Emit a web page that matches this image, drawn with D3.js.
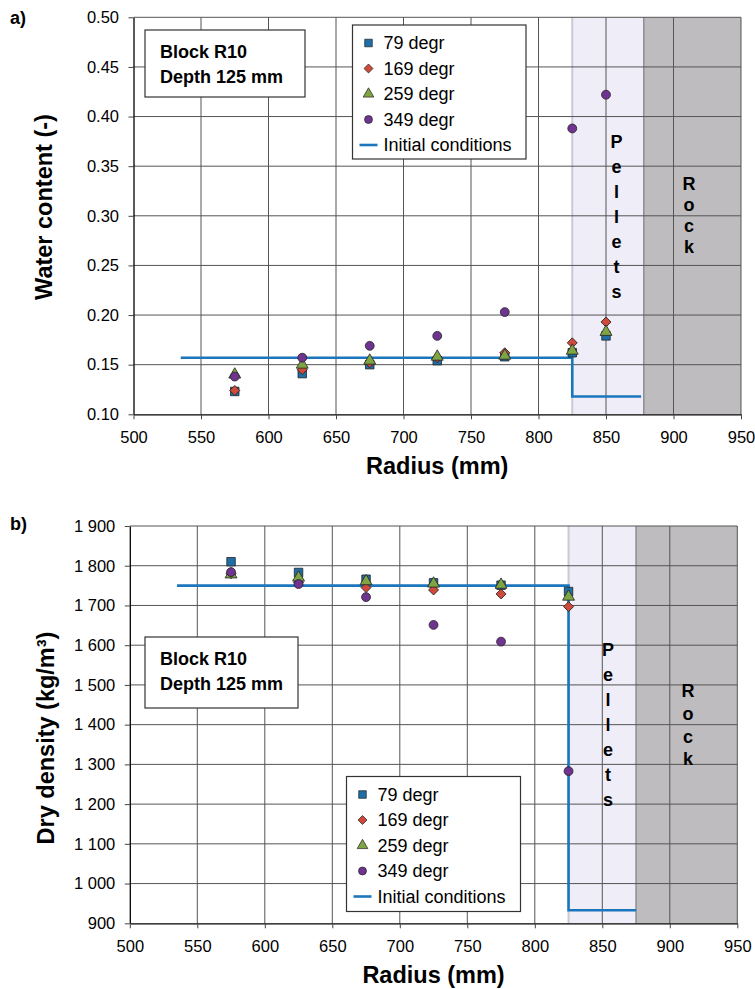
<!DOCTYPE html>
<html>
<head>
<meta charset="utf-8">
<script src="https://cdn.jsdelivr.net/npm/d3@7"></script>
<style>
  body { margin: 0; background: #fff; }
  svg text { font-family: "Liberation Sans", Arial, sans-serif; fill: #000; }
</style>
</head>
<body>
<div id="chart"></div>
<script>
// values
var radius = [575, 625, 675, 725, 775, 825, 850];
var seriesNames = ["79 degr", "169 degr", "259 degr", "349 degr"];
var initName = "Initial conditions";

// a) water content
var water79 = [0.123, 0.141, 0.150, 0.154, 0.158, 0.162, 0.179];
var water169 = [0.124, 0.145, 0.152, 0.157, 0.162, 0.172, 0.193];
var water259 = [0.140, 0.150, 0.154, 0.158, 0.159, 0.164, 0.183];
var water349 = [0.138, 0.157, 0.169, 0.179, 0.203, 0.388, 0.422];
var waterInitR = [535, 825, 825, 876];
var waterInit = [0.157, 0.157, 0.118, 0.118];
var waterTicks = [0.10, 0.15, 0.20, 0.25, 0.30, 0.35, 0.40, 0.45, 0.50];

// b) dry density (no point at 850)
var density79 = [1810, 1783, 1766, 1757, 1751, 1735];
var density169 = [1780, 1758, 1745, 1739, 1729, 1697];
var density259 = [1778, 1770, 1761, 1755, 1752, 1722];
var density349 = [1784, 1754, 1721, 1651, 1609, 1283];
var densityInitR = [535, 825, 825, 875];
var densityInit = [1750, 1750, 933, 933];
var densityTicks = [900, 1000, 1100, 1200, 1300, 1400, 1500, 1600, 1700, 1800, 1900];

var radiusTicks = [500, 550, 600, 650, 700, 750, 800, 850, 900, 950];
var pelletsA = [825, 878], rockA = [878, 950];
var pelletsB = [825, 875], rockB = [875, 950];

var colors = ["#1f6ea8", "#d04a3b", "#7ea443", "#6f3390"];
var lineColor = "#1b76bd";
// diamond = square turned 45 degrees
var symbols = [d3.symbolSquare, d3.symbolSquare, d3.symbolTriangle, d3.symbolCircle];
var symRot = [0, 45, 0, 0];
var symSizes = [72, 50, 62, 62];

var svg = d3.select("#chart").append("svg")
  .attr("width", 755)
  .attr("height", 989);

var spaceFmt = d3.formatLocale({decimal: ".", thousands: " ", grouping: [3], currency: ["", ""]}).format(",");

function drawPanel(cfg) {
  var x = d3.scaleLinear().domain([500, 950]).range([cfg.left, cfg.right]);
  var y = d3.scaleLinear().domain(cfg.yDomain).range([cfg.bottom, cfg.top]);
  var g = svg.append("g");

  // shaded zones
  g.append("rect")
    .attr("x", x(cfg.pellets[0])).attr("y", cfg.top)
    .attr("width", x(cfg.pellets[1]) - x(cfg.pellets[0]))
    .attr("height", cfg.bottom - cfg.top)
    .attr("fill", "#eeedf8");
  g.append("line")
    .attr("x1", x(cfg.pellets[0])).attr("x2", x(cfg.pellets[0]))
    .attr("y1", cfg.top).attr("y2", cfg.bottom)
    .attr("stroke", "#cac9d4").attr("stroke-width", 2);
  g.append("rect")
    .attr("x", x(cfg.rock[0])).attr("y", cfg.top)
    .attr("width", x(cfg.rock[1]) - x(cfg.rock[0]))
    .attr("height", cfg.bottom - cfg.top)
    .attr("fill", "#bebcbe");
  g.append("line")
    .attr("x1", x(cfg.rock[0])).attr("x2", x(cfg.rock[0]))
    .attr("y1", cfg.top).attr("y2", cfg.bottom)
    .attr("stroke", "#8e8d90").attr("stroke-width", 1.5);

  // grid
  g.selectAll(".vgrid").data(radiusTicks.slice(1)).enter().append("line")
    .attr("x1", d => x(d)).attr("x2", d => x(d))
    .attr("y1", cfg.top).attr("y2", cfg.bottom)
    .attr("stroke", "#555").attr("stroke-width", 1);
  g.selectAll(".hgrid").data(cfg.yTicks.slice(1)).enter().append("line")
    .attr("x1", cfg.left).attr("x2", cfg.right)
    .attr("y1", d => y(d)).attr("y2", d => y(d))
    .attr("stroke", "#555").attr("stroke-width", 1);

  // axes
  var yAxis = d3.axisLeft(y).tickValues(cfg.yTicks).tickFormat(cfg.yFormat)
    .tickSizeOuter(0).tickSizeInner(5).tickPadding(9.5);
  var xAxis = d3.axisBottom(x).tickValues(radiusTicks).tickFormat(d3.format("d"))
    .tickSizeOuter(0).tickSizeInner(5).tickPadding(12);
  var ya = g.append("g").attr("transform", `translate(${cfg.left},0)`).call(yAxis);
  var xa = g.append("g").attr("transform", `translate(0,${cfg.bottom})`).call(xAxis);
  [ya, xa].forEach(function(a) {
    a.selectAll("text").attr("font-size", "16.5px").attr("fill", "#000")
      .attr("font-family", "Liberation Sans, Arial, sans-serif");
    a.selectAll(".tick line").attr("stroke", "#444");
    a.select(".domain").attr("stroke", "#000").attr("stroke-width", 1.3);
  });

  // zone labels
  "Pellets".split("").forEach(function(ch, i) {
    g.append("text").attr("x", cfg.pelletsX).attr("y", cfg.pelletsY + i * 25)
      .attr("dy", "0.35em").attr("text-anchor", "middle")
      .attr("font-size", "18px").attr("font-weight", "bold").text(ch);
  });
  "Rock".split("").forEach(function(ch, i) {
    g.append("text").attr("x", cfg.rockX).attr("y", cfg.rockY + i * cfg.rockStep)
      .attr("dy", "0.35em").attr("text-anchor", "middle")
      .attr("font-size", "18px").attr("font-weight", "bold").text(ch);
  });

  // initial conditions
  var line = d3.line().x(d => x(d[0])).y(d => y(d[1]));
  g.append("path")
    .datum(cfg.initR.map((r, i) => [r, cfg.init[i]]))
    .attr("d", line)
    .attr("fill", "none").attr("stroke", lineColor).attr("stroke-width", 2.6);

  // measured points
  cfg.series.forEach(function(vals, s) {
    g.selectAll(".pt" + s).data(vals).enter().append("path")
      .attr("transform", (d, i) => `translate(${x(radius[i])},${y(d)}) rotate(${symRot[s]})`)
      .attr("d", d3.symbol().type(symbols[s]).size(symSizes[s]))
      .attr("fill", colors[s]).attr("stroke", "#222").attr("stroke-width", 0.8);
  });

  // info box
  var b = cfg.box;
  g.append("rect").attr("x", b.x).attr("y", b.y).attr("width", b.w).attr("height", b.h)
    .attr("fill", "#fff").attr("stroke", "#333").attr("stroke-width", 1.2);
  ["Block R10", "Depth 125 mm"].forEach(function(t, i) {
    g.append("text").attr("x", b.x + 15).attr("y", b.y + 22 + i * 25)
      .attr("dy", "0.35em").attr("font-size", "18px").attr("font-weight", "bold").text(t);
  });

  // legend
  var L = cfg.legend;
  g.append("rect").attr("x", L.x).attr("y", L.y).attr("width", L.w).attr("height", L.h)
    .attr("fill", "#fff").attr("stroke", "#333").attr("stroke-width", 1.2);
  seriesNames.forEach(function(name, s) {
    var cy = L.y + 18 + s * 25.5;
    g.append("path").attr("transform", `translate(${L.x + 16},${cy}) rotate(${symRot[s]})`)
      .attr("d", d3.symbol().type(symbols[s]).size(symSizes[s] * 0.8))
      .attr("fill", colors[s]).attr("stroke", "#222").attr("stroke-width", 0.7);
    g.append("text").attr("x", L.x + 31).attr("y", cy).attr("dy", "0.35em")
      .attr("font-size", "18px").text(name);
  });
  var ly = L.y + 18 + 4 * 25.5;
  g.append("line").attr("x1", L.x + 7).attr("x2", L.x + 25).attr("y1", ly).attr("y2", ly)
    .attr("stroke", lineColor).attr("stroke-width", 2.6);
  g.append("text").attr("x", L.x + 31).attr("y", ly).attr("dy", "0.35em")
    .attr("font-size", "18px").text(initName);

  // titles
  g.append("text")
    .attr("transform", `translate(${cfg.yTitleX},${cfg.yTitleY}) rotate(-90)`)
    .attr("text-anchor", "middle").attr("dy", "0.35em")
    .attr("font-size", "23.5px").attr("font-weight", "bold").text(cfg.yTitle);
  g.append("text").attr("x", (cfg.left + cfg.right) / 2).attr("y", cfg.xTitleY)
    .attr("text-anchor", "middle").attr("dy", "0.35em")
    .attr("font-size", "23.5px").attr("font-weight", "bold").text("Radius (mm)");
  g.append("text").attr("x", 10).attr("y", cfg.tagY).attr("dy", "0.35em")
    .attr("font-size", "18px").attr("font-weight", "bold").text(cfg.tag);
}

drawPanel({
  left: 133.5, right: 741, top: 17.3, bottom: 414.3,
  yDomain: [0.10, 0.50], yTicks: waterTicks, yFormat: d3.format(".2f"),
  series: [water79, water169, water259, water349],
  initR: waterInitR, init: waterInit,
  pellets: pelletsA, rock: rockA,
  pelletsX: 616.5, pelletsY: 142, rockX: 689, rockY: 184, rockStep: 21,
  box: {x: 145, y: 30, w: 160, h: 67},
  legend: {x: 352.5, y: 25, w: 173.5, h: 134},
  yTitle: "Water content (-)", yTitleX: 44, yTitleY: 207, xTitleY: 466,
  tag: "a)", tagY: 18
});

drawPanel({
  left: 129.8, right: 737.3, top: 526, bottom: 923.3,
  yDomain: [900, 1900], yTicks: densityTicks, yFormat: spaceFmt,
  series: [density79, density169, density259, density349],
  initR: densityInitR, init: densityInit,
  pellets: pelletsB, rock: rockB,
  pelletsX: 608, pelletsY: 650, rockX: 688, rockY: 691, rockStep: 22.7,
  box: {x: 145, y: 637, w: 153, h: 71},
  legend: {x: 346.5, y: 776.5, w: 174, h: 135},
  yTitle: "Dry density (kg/m³)", yTitleX: 46, yTitleY: 738, xTitleY: 975,
  tag: "b)", tagY: 524
});
</script>
</body>
</html>
